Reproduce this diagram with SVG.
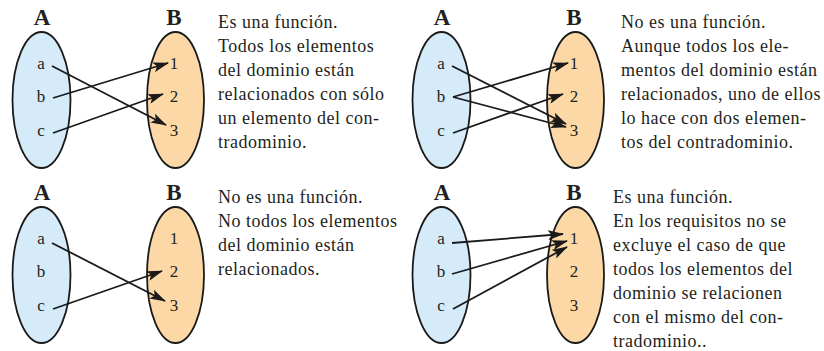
<svg xmlns="http://www.w3.org/2000/svg" width="824" height="351" viewBox="0 0 824 351">
<style>
.setA{fill:#d5ebfa;stroke:#1a1a1a;stroke-width:1.8}
.setB{fill:#fcd8a6;stroke:#1a1a1a;stroke-width:1.8}
.title{font-family:"Liberation Serif",serif;font-weight:bold;font-size:23px;fill:#231f20;text-anchor:middle}
.el{font-family:"Liberation Serif",serif;font-size:17px;fill:#231f20;text-anchor:middle}
.desc{font-family:"Liberation Serif",serif;font-size:18px;letter-spacing:0.5px;fill:#231f20}
.arr{stroke:#1a1a1a;stroke-width:1.8;fill:none;marker-end:url(#ah)}
</style>
<defs>
<marker id="ah" viewBox="0 0 16 10" refX="15" refY="5" markerWidth="16" markerHeight="10" markerUnits="userSpaceOnUse" orient="auto">
<path d="M0,0 L16,5 L0,10 L3.5,5 z" fill="#1a1a1a"/>
</marker>
<g id="setAtpl">
<ellipse class="setA" cx="41.5" cy="100" rx="29" ry="68"/>
<text class="title" x="42" y="25">A</text>
<text class="el" x="41" y="69">a</text>
<text class="el" x="41" y="102">b</text>
<text class="el" x="41" y="136">c</text>
</g>
<g id="setBtpl">
<ellipse class="setB" cx="175.5" cy="100" rx="28.5" ry="68"/>
<text class="title" x="174" y="25">B</text>
<text class="el" x="174" y="69">1</text>
<text class="el" x="174" y="102">2</text>
<text class="el" x="174" y="136">3</text>
</g>
</defs>

<g id="p1-A"><use href="#setAtpl"/></g>
<g id="p1-B"><use href="#setBtpl"/></g>
<g id="p2-A"><use href="#setAtpl" x="400"/></g>
<g id="p2-B"><use href="#setBtpl" x="400"/></g>
<g id="p3-A"><use href="#setAtpl" y="175"/></g>
<g id="p3-B"><use href="#setBtpl" y="175"/></g>
<g id="p4-A"><use href="#setAtpl" x="400" y="175"/></g>
<g id="p4-B"><use href="#setBtpl" x="400" y="175"/></g>

<g id="connectors">
<line class="arr" x1="52" y1="66" x2="166" y2="125"/>
<line class="arr" x1="53" y1="98" x2="168" y2="63"/>
<line class="arr" x1="53" y1="133" x2="163" y2="94"/>

<line class="arr" x1="452" y1="66" x2="566" y2="124"/>
<line class="arr" x1="453" y1="97" x2="568" y2="63"/>
<line class="arr" x1="453" y1="97" x2="566" y2="127"/>
<line class="arr" x1="453" y1="133" x2="563" y2="94"/>

<line class="arr" x1="52" y1="243" x2="165" y2="301"/>
<line class="arr" x1="53" y1="309" x2="162" y2="271"/>

<line class="arr" x1="452" y1="243" x2="563" y2="234"/>
<line class="arr" x1="452" y1="274" x2="567" y2="241"/>
<line class="arr" x1="453" y1="309" x2="567" y2="247"/>
</g>

<g id="text1" class="desc">
<text x="218" y="28">Es una función.</text>
<text x="218" y="52">Todos los elementos</text>
<text x="218" y="76">del dominio están</text>
<text x="218" y="100">relacionados con sólo</text>
<text x="218" y="124">un elemento del con-</text>
<text x="218" y="148">tradominio.</text>
</g>
<g id="text2" class="desc">
<text x="621" y="28">No es una función.</text>
<text x="621" y="52">Aunque todos los ele-</text>
<text x="621" y="76">mentos del dominio están</text>
<text x="621" y="100">relacionados, uno de ellos</text>
<text x="621" y="124">lo hace con dos elemen-</text>
<text x="621" y="148">tos del contradominio.</text>
</g>
<g id="text3" class="desc">
<text x="218" y="203">No es una función.</text>
<text x="218" y="227">No todos los elementos</text>
<text x="218" y="251">del dominio están</text>
<text x="218" y="275">relacionados.</text>
</g>
<g id="text4" class="desc">
<text x="613" y="203">Es una función.</text>
<text x="613" y="227">En los requisitos no se</text>
<text x="613" y="251">excluye el caso de que</text>
<text x="613" y="275">todos los elementos del</text>
<text x="613" y="299">dominio se relacionen</text>
<text x="613" y="323">con el mismo del con-</text>
<text x="613" y="347">tradominio..</text>
</g>
</svg>
